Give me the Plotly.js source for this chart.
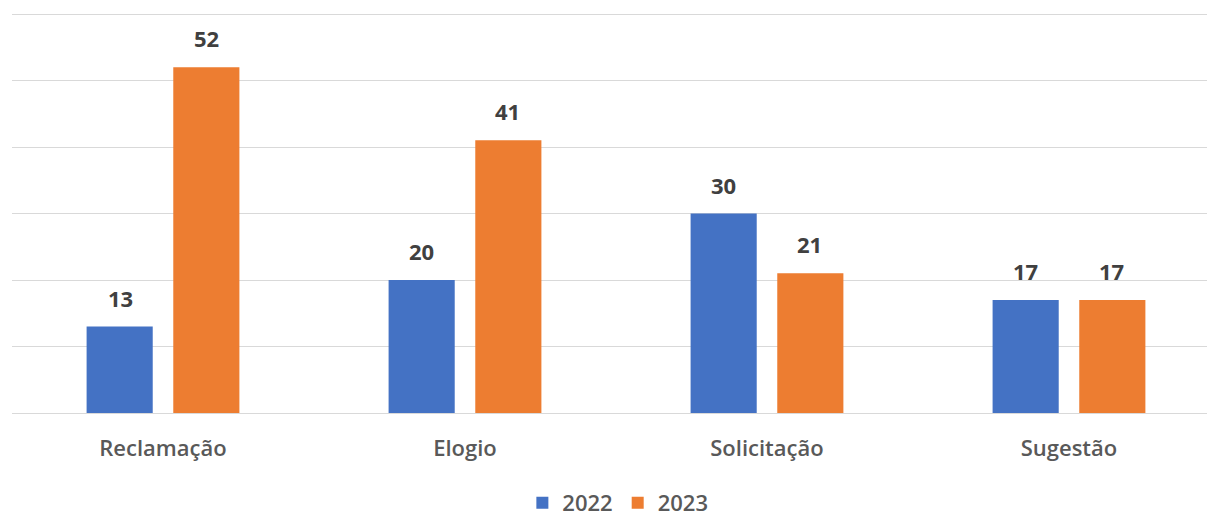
<!DOCTYPE html>
<html>
<head>
<meta charset="utf-8">
<script src="https://cdn.plot.ly/plotly-3.0.1.min.js"></script>
<style>html,body{margin:0;padding:0;overflow:hidden;background:#fff}</style>
</head>
<body>
<div id="chart" style="width:1207px;height:517px"></div>
<script>
const categories = ["Reclamação", "Elogio", "Solicitação", "Sugestão"];
const values2022 = [13, 20, 30, 17];
const values2023 = [52, 41, 21, 17];
const seriesNames = ["2022", "2023"];

const font = "'Open Sans', 'Noto Sans', sans-serif";
const traces = [
  {type: "bar", name: seriesNames[0], x: categories, y: values2022,
   marker: {color: "#4472C4"}, hoverinfo: "skip"},
  {type: "bar", name: seriesNames[1], x: categories, y: values2023,
   marker: {color: "#ED7D31"}, hoverinfo: "skip"}
];

const annotations = [];
[[values2022, -43], [values2023, 43]].forEach(([vals, shift]) => {
  vals.forEach((v, i) => {
    annotations.push({
      x: categories[i], y: v, xref: "x", yref: "y",
      text: String(v), showarrow: false,
      xanchor: "center", yanchor: "middle",
      xshift: shift, yshift: 29,
      font: {family: font, size: 22, color: "#404040", weight: "bold"}
    });
  });
});

const layout = {
  width: 1207, height: 517,
  margin: {l: 12, r: 0, t: 12, b: 104, autoexpand: false},
  paper_bgcolor: "#fff", plot_bgcolor: "#fff",
  barmode: "group", bargap: 0.426, bargroupgap: 0.237,
  xaxis: {
    type: "category", range: [-0.5, 3.457], automargin: false,
    showgrid: false, zeroline: false, showline: false,
    ticks: "", ticklabelstandoff: 20,
    tickfont: {family: font, size: 22, color: "#595959", weight: 600}
  },
  yaxis: {
    range: [0, 60.3], dtick: 10, showticklabels: false, automargin: false,
    showgrid: true, gridcolor: "#d9d9d9", gridwidth: 1,
    zeroline: true, zerolinecolor: "#d9d9d9", zerolinewidth: 1,
    fixedrange: true
  },
  showlegend: true,
  legend: {
    orientation: "h", x: 0.507, xanchor: "center",
    yref: "container", y: 0.027, yanchor: "middle",
    font: {family: font, size: 22, color: "#595959", weight: 600},
    itemwidth: 30, traceorder: "normal"
  },
  annotations: annotations
};

Plotly.newPlot("chart", traces, layout, {displayModeBar: false, staticPlot: true});
</script>
</body>
</html>
